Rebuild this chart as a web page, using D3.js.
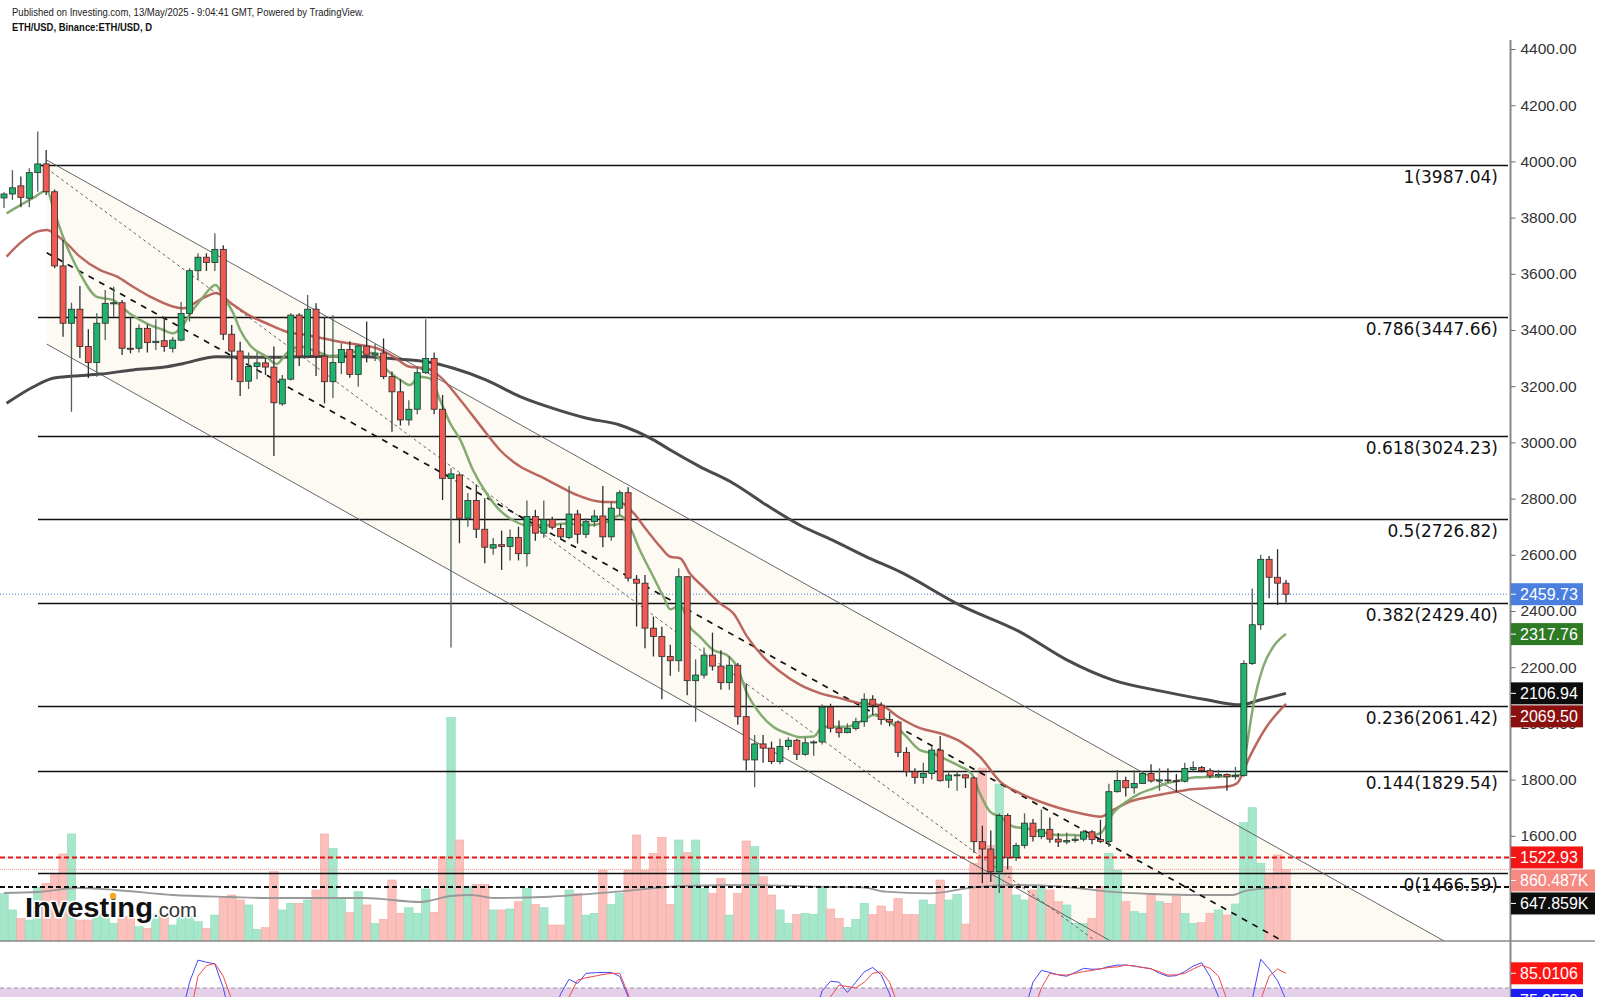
<!DOCTYPE html>
<html>
<head>
<meta charset="utf-8">
<script src="https://cdn.jsdelivr.net/npm/d3@7"></script>
<style>
  html, body { margin: 0; padding: 0; background: #fff; }
  svg { display: block; font-family: "Liberation Sans", Arial, sans-serif; }
</style>
</head>
<body>
<div id="chart"></div>
<script>
// ETH/USD daily, 12 Dec 2024 .. 13 May 2025 (index 0..152)
const opens = [3870,3884,3913,3869,3960,3991,3892,3628,3424,3474,
  3341,3284,3424,3493,3497,3335,3335,3406,3355,3362,
  3335,3364,3459,3611,3659,3640,3687,3385,3325,3218,
  3270,3283,3268,3137,3225,3453,3307,3474,3307,3216,
  3284,3331,3242,3343,3311,3318,3234,3180,3080,3118,
  3248,3299,3118,2872,2884,2730,2793,2691,2624,2636,
  2630,2662,2604,2736,2677,2726,2694,2662,2745,2673,
  2718,2738,2664,2766,2821,2513,2499,2339,2309,2238,
  2223,2522,2152,2172,2243,2204,2145,2207,2024,1870,
  1927,1912,1864,1918,1940,1890,1931,1934,2058,1983,
  1967,1982,2006,2086,2065,2014,2005,1897,1828,1808,
  1822,1905,1798,1816,1817,1806,1579,1553,1472,1672,
  1522,1566,1645,1597,1623,1588,1578,1583,1588,1614,
  1587,1580,1757,1797,1771,1786,1822,1795,1799,1796,
  1794,1836,1843,1832,1813,1818,1810,1815,2213,2351,
  2584,2520,2499];
const highs = [3890,3969,3946,3976,4106,4041,3900,3720,3497,3557,
  3403,3460,3542,3554,3507,3447,3420,3420,3438,3447,
  3375,3500,3620,3673,3673,3744,3702,3418,3358,3320,
  3320,3300,3341,3240,3460,3460,3525,3495,3447,3453,
  3353,3360,3350,3430,3350,3370,3252,3225,3150,3270,
  3438,3320,3169,2908,2890,2820,2850,2801,2660,2686,
  2690,2700,2793,2760,2793,2735,2710,2845,2760,2730,
  2760,2845,2790,2830,2840,2528,2528,2380,2344,2280,
  2552,2522,2228,2270,2323,2260,2240,2215,2143,1959,
  1959,1935,1945,1950,1945,1950,1940,2068,2070,2010,
  2000,2020,2107,2100,2075,2040,2010,1915,1840,1860,
  1920,1955,1830,1830,1820,1811,1636,1619,1679,1679,
  1575,1680,1660,1694,1665,1610,1612,1600,1620,1620,
  1657,1785,1834,1810,1834,1830,1855,1840,1840,1820,
  1860,1865,1848,1840,1835,1822,1845,2225,2480,2600,
  2596,2620,2510];
const lows = [3834,3863,3837,3837,3892,3880,3620,3376,3109,3300,
  3229,3234,3364,3447,3311,3317,3320,3320,3329,3323,
  3320,3360,3430,3578,3610,3610,3364,3222,3165,3190,
  3225,3240,2952,3130,3220,3272,3299,3236,3139,3158,
  3243,3230,3198,3284,3290,3225,3038,3060,3060,3100,
  3243,3100,2795,2270,2641,2700,2660,2570,2600,2546,
  2580,2580,2558,2650,2660,2690,2655,2655,2640,2660,
  2700,2627,2650,2740,2505,2345,2267,2238,2086,2170,
  2184,2100,2006,2160,2188,2120,2120,1995,1832,1773,
  1860,1855,1855,1905,1870,1885,1885,1925,1968,1950,
  1965,1975,1988,2030,1995,1990,1880,1811,1785,1785,
  1800,1793,1770,1760,1770,1540,1431,1436,1396,1480,
  1510,1555,1580,1588,1575,1560,1570,1575,1580,1570,
  1574,1560,1754,1740,1750,1785,1790,1760,1790,1755,
  1790,1830,1825,1805,1805,1760,1800,1810,2208,2333,
  2445,2421,2430];
const closes = [3884,3906,3872,3960,3991,3892,3628,3424,3474,3341,
  3284,3424,3495,3497,3335,3333,3406,3355,3360,3341,
  3364,3459,3611,3659,3640,3687,3385,3325,3216,3270,
  3283,3268,3141,3225,3453,3307,3474,3307,3216,3284,
  3331,3242,3343,3311,3318,3234,3180,3080,3118,3248,
  3299,3118,2872,2888,2730,2793,2691,2627,2636,2630,
  2662,2604,2736,2677,2726,2698,2664,2745,2673,2718,
  2738,2664,2766,2821,2517,2499,2339,2309,2238,2223,
  2522,2152,2172,2243,2204,2145,2207,2024,1870,1927,
  1912,1864,1918,1940,1890,1931,1934,2058,1983,1967,
  1982,2006,2086,2065,2014,2005,1897,1828,1808,1822,
  1905,1796,1816,1817,1806,1579,1553,1472,1672,1522,
  1566,1645,1597,1623,1588,1578,1583,1588,1614,1587,
  1580,1757,1797,1771,1786,1822,1795,1799,1796,1794,
  1840,1843,1832,1813,1818,1810,1815,2213,2351,2584,
  2520,2499,2459.73];
// volume in thousands
const volumes = [573,373,273,252,645,693,800,1046,1286,252,
  252,333,333,213,292,292,172,153,333,292,
  192,292,292,232,153,312,525,553,493,433,
  141,160,833,373,453,453,493,613,1286,1114,
  513,340,593,433,213,261,733,333,400,333,
  625,345,1013,2687,1214,653,681,681,373,373,
  385,473,633,441,400,192,192,613,573,312,
  333,853,441,573,853,1274,853,1054,1246,441,
  1214,1062,1214,633,573,753,312,573,1202,1134,
  773,553,373,212,320,333,320,653,385,273,
  164,260,453,320,421,353,513,320,320,493,
  441,733,493,561,204,933,2079,1150,1887,893,
  553,493,613,645,613,473,433,212,212,273,
  653,1054,853,473,353,333,573,473,453,533,
  333,212,220,333,373,312,445,1422,1602,934,
  814,1034,860.487];

// moving averages: [candle index, value]
const maFast = [[0.3,3815],[3.4,3869],[5.1,3896],[5.9,3827],[7,3732],[9,3602],[11,3518],[12.9,3507],[14.9,3459],[16.9,3424],[18.9,3400],[20,3388],[21.1,3412],[22.1,3459],[23.4,3510],[25.1,3560],[25.8,3531],[26.4,3501],[27.2,3459],[28,3400],[29.2,3345],[31.1,3305],[32.3,3279],[33.5,3317],[35.1,3341],[37.1,3323],[39,3305],[41.4,3323],[43.8,3317],[45.4,3258],[47,3222],[48.1,3204],[49.3,3234],[50.5,3228],[51.7,3151],[52.9,3068],[54.1,3009],[55.6,2902],[57.2,2819],[58.8,2758],[60.4,2722],[62,2705],[64.3,2705],[66.7,2711],[69.1,2705],[71.5,2717],[73,2740],[74.2,2699],[75.4,2616],[77,2521],[78.2,2450],[79,2406],[80.2,2421],[81.3,2344],[82.5,2309],[84.1,2261],[85.7,2243],[86.9,2202],[88.1,2107],[89.6,2036],[91.2,1988],[92.8,1965],[94.4,1951],[96,1953],[97.1,1988],[99.9,1988],[101.9,2012],[103.1,2030],[104.3,2018],[105.8,1988],[107,1953],[108.6,1905],[110.2,1893],[111.8,1870],[113.4,1846],[114.7,1822],[115.7,1751],[116.9,1686],[118.1,1668],[119.7,1632],[121.3,1626],[122.8,1615],[124.8,1603],[126.8,1603],[128.4,1599],[130,1609],[131.5,1680],[133.1,1722],[134.7,1751],[136.3,1769],[137.9,1787],[139.4,1798],[141.4,1808],[143.4,1810],[145.4,1813],[146.6,1817],[147.2,1894],[148.1,2060],[149.3,2202],[150.5,2273],[152,2317.76]];
const maMid = [[0.3,3661],[1.9,3709],[3.9,3750],[5.1,3756],[6.2,3738],[7.4,3709],[9,3661],[11.4,3613],[13.4,3590],[15.3,3554],[17.3,3519],[20.1,3483],[21.3,3477],[23.2,3507],[25.2,3532],[26.9,3496],[29.2,3450],[31.1,3424],[33.5,3394],[35.9,3382],[37.9,3370],[39.8,3358],[42.2,3347],[44.2,3335],[46.2,3305],[48.1,3269],[50.1,3264],[51.7,3234],[54.1,3151],[57.2,3032],[58.8,2973],[61.2,2914],[63.6,2879],[65.9,2843],[67.9,2813],[70.7,2789],[73,2787],[74.6,2750],[76.2,2688],[77.8,2629],[79,2593],[80.2,2587],[81.3,2534],[82.9,2486],[84.9,2427],[86.5,2391],[88.1,2309],[90,2238],[92,2185],[94.4,2137],[96.8,2107],[99.1,2090],[101.5,2072],[103.9,2065],[106.2,2020],[108.6,1983],[111,1965],[113.4,1935],[115.7,1882],[118.1,1793],[120.5,1751],[122.8,1722],[125.2,1698],[127.6,1680],[130,1668],[131.5,1692],[133.5,1722],[135.5,1737],[137.9,1751],[140.2,1763],[142.6,1769],[145.4,1777],[146.2,1787],[147.7,1882],[149.7,1988],[152,2069.5]];
const maSlow = [[0.3,3139],[3.5,3198],[5.8,3228],[8.2,3236],[11.4,3243],[15.3,3258],[19.3,3269],[21.3,3281],[25.2,3305],[31.1,3303],[35.1,3305],[39,3307],[43,3305],[47,3296],[50.1,3287],[53.3,3264],[57.2,3222],[61.2,3163],[65.1,3121],[69.1,3086],[73,3062],[77,3009],[79,2973],[82.5,2914],[86.5,2854],[90.4,2777],[94.4,2705],[98.3,2651],[102.3,2592],[106.2,2540],[113.4,2420],[120.5,2325],[126,2226],[131.5,2154],[137.5,2113],[142.4,2085],[146.6,2066],[148.9,2083],[152,2106.94]];
const volMA = [[0,577],[4,589],[8.7,637],[13.2,613],[20,553],[26.8,529],[31.3,517],[38,517],[42.7,517],[49.4,469],[53,541],[55.4,553],[58,517],[64.7,532],[72.7,593],[80.6,661],[88.6,673],[96.5,653],[101.8,645],[104.5,593],[109.7,573],[115,645],[120.3,673],[125.6,653],[130.9,593],[136.2,565],[141.5,553],[145.7,553],[146.9,593],[149.7,633],[152,647.859]];

// stochastic (only the stretches that rise above ~76 are visible)
const stochK = [
  [[21,70],[22,82],[23,89.5],[24,88.8],[25,88.2],[26,80],[27,68]],
  [[65,70],[66,78],[67,83],[68,81.5],[69,85],[70,85.2],[71,85.3],[72,85.3],[73,84],[74,77],[75,65]],
  [[96,70],[97,79],[98,82.3],[99,82],[100,78.5],[101,82],[102,85.5],[103,87],[104,84.5],[105,78],[106,68]],
  [[121,72],[122,82],[123,86],[124,85.3],[125,84.5],[126,84],[127,85.3],[128,86.7],[129,86.4],[130,86.5],[131,87.3],[132,87.8],[133,87.8],[134,87.5],[135,87],[136,86.6],[137,85],[138,84],[139,84.2],[140,85.6],[141,87.5],[142,88.6],[143,83.9],[144,77],[145,68]],
  [[147,62],[148,76],[149,89.8],[150,86.5],[151,82.5],[152,75.9579]]
];
const stochD = [
  [[22,70],[23,84],[24,87.6],[25,88.4],[26,84],[27,76],[28,68]],
  [[66,70],[67,77],[68,82.7],[69,83.5],[70,84],[71,84.6],[72,85],[73,85],[74,78],[75,68]],
  [[97,70],[98,77],[99,81],[100,80.5],[101,80],[102,82],[103,85],[104,85.5],[105,82],[106,74],[107,65]],
  [[122,72],[123,80],[124,85],[125,84.5],[126,84.4],[127,85],[128,85.6],[129,86],[130,86.5],[131,87],[132,87.2],[133,87.8],[134,87.5],[135,87],[136,86.5],[137,85.5],[138,84.4],[139,84.5],[140,85],[141,86.5],[142,87.8],[143,86.7],[144,84],[145,76],[146,66]],
  [[148,62],[149,76],[150,84],[151,86.5],[152,85.0106]]
];

const fibLevels = [1, 0.786, 0.618, 0.5, 0.382, 0.236, 0.144, 0];
const fibPrices = [3987.04, 3447.66, 3024.23, 2726.82, 2429.40, 2061.42, 1829.54, 1466.59];
const alertLevel = 1522.93;
const yTicks = [1600,1800,2000,2200,2400,2600,2800,3000,3200,3400,3600,3800,4000,4200,4400];

// drawn trend lines: [candle index, price]
const channelUpper = [[5.06, 4005], [106.2, 2308.5]];
const channelLower = [[5.06, 3350], [126.8, 1300]];
const trendMid = [[5.06, 3675], [145, 1336]];
const trendDotted = [[5.06, 3975], [106.2, 1739]];

const W = 1600, H = 997;
const axisX = 1510.5, paneBottom = 941;

const svg = d3.select('#chart').append('svg').attr('width', W).attr('height', H);

const x = d3.scaleLinear().domain([0, 152]).range([4, 1286]);
const y = d3.scaleLinear().domain([1600, 4400]).range([835.8, 49]);
const yVol = d3.scaleLinear().domain([0, 1000]).range([paneBottom, paneBottom - 83.2]);
const yStoch = d3.scaleLinear().domain([80, 85.0106]).range([988, 973.3]);

const defs = svg.append('defs');
defs.append('clipPath').attr('id', 'mainClip').append('rect')
  .attr('x', 0).attr('y', 0).attr('width', 1509).attr('height', paneBottom);
defs.append('clipPath').attr('id', 'stochClip').append('rect')
  .attr('x', 0).attr('y', 942).attr('width', 1509).attr('height', 60);

const main = svg.append('g').attr('clip-path', 'url(#mainClip)');

// extend a two-point line down to the bottom of the pane
const pBottom = y.invert(paneBottom + 2);
function extend(pts) {
  const [a, b] = pts;
  const slope = (b[1] - a[1]) / (b[0] - a[0]);
  return [a, [a[0] + (pBottom - a[1]) / slope, pBottom]];
}
const up = extend(channelUpper), lo = extend(channelLower);

// channel fill
main.append('path')
  .attr('d', d3.line()([up[0], up[1], lo[1], lo[0]].map(d => [x(d[0]), y(d[1])])) + 'Z')
  .attr('fill', '#fbf6ea').attr('opacity', 0.55);

// volume bars
const candles = closes.map((c, i) => ({ i, o: opens[i], h: highs[i], l: lows[i], c, v: volumes[i] }));
main.append('g').selectAll('rect').data(candles).join('rect')
  .attr('x', d => x(d.i) - 4.2)
  .attr('width', 8.43)
  .attr('y', d => yVol(d.v))
  .attr('height', d => paneBottom - yVol(d.v))
  .attr('fill', d => d.c >= d.o ? '#a6e6cb' : '#fbc0bb')
  .attr('stroke', d => d.c >= d.o ? '#8fdcbc' : '#f5aaa4')
  .attr('stroke-width', 0.6);

main.append('path').datum(volMA)
  .attr('d', d3.line().x(d => x(d[0])).y(d => yVol(d[1])).curve(d3.curveMonotoneX))
  .attr('fill', 'none').attr('stroke', '#999').attr('stroke-width', 1.8);

// horizontal reference lines
function hline(yy, color, w, dash) {
  main.append('line').attr('x1', 0).attr('x2', 1509).attr('y1', yy).attr('y2', yy)
    .attr('stroke', color).attr('stroke-width', w).attr('stroke-dasharray', dash);
}
hline(yVol(volumes[152]), '#f3a19b', 1, '1,1');
hline(y(closes[152]), '#4a7fe0', 1, '1,2');
hline(y(alertLevel), '#e51414', 2, '5,3');
hline(yVol(volMA[volMA.length - 1][1]), '#111', 2, '5,3');

// fibonacci levels
const fib = main.append('g');
fib.selectAll('line').data(fibPrices).join('line')
  .attr('x1', 38).attr('x2', 1508)
  .attr('y1', d => Math.round(y(d)) + 0.5).attr('y2', d => Math.round(y(d)) + 0.5)
  .attr('stroke', '#111').attr('stroke-width', 1.3);
fib.selectAll('text').data(fibPrices).join('text')
  .attr('x', 1498).attr('y', d => y(d) + 18)
  .attr('text-anchor', 'end')
  .style('font', '17px "DejaVu Sans", Verdana, sans-serif').attr('fill', '#111')
  .text((d, k) => `${fibLevels[k]}(${d.toFixed(2)})`);

// trend channel lines
const seg = d3.line().x(d => x(d[0])).y(d => y(d[1]));
main.append('path').attr('d', seg(up)).attr('stroke', '#555').attr('stroke-width', 0.9).attr('fill', 'none');
main.append('path').attr('d', seg(lo)).attr('stroke', '#555').attr('stroke-width', 0.9).attr('fill', 'none');
main.append('path').attr('d', seg(extend(trendDotted))).attr('stroke', '#555')
  .attr('stroke-width', 0.9).attr('stroke-dasharray', '3,3').attr('fill', 'none');
main.append('path').attr('d', seg(extend(trendMid))).attr('stroke', '#111')
  .attr('stroke-width', 1.7).attr('stroke-dasharray', '6,6').attr('fill', 'none');

// moving averages
const maLine = d3.line().x(d => x(d[0])).y(d => y(d[1])).curve(d3.curveMonotoneX);
main.append('path').datum(maSlow).attr('d', maLine)
  .attr('fill', 'none').attr('stroke', '#4a4a4a').attr('stroke-width', 3);
main.append('path').datum(maMid).attr('d', maLine)
  .attr('fill', 'none').attr('stroke', '#b4574f').attr('stroke-width', 2.5).attr('opacity', 0.9);
main.append('path').datum(maFast).attr('d', maLine)
  .attr('fill', 'none').attr('stroke', '#7da76a').attr('stroke-width', 2.5).attr('opacity', 0.95);

// candles
const cg = main.append('g');
cg.selectAll('line').data(candles).join('line')
  .attr('x1', d => x(d.i)).attr('x2', d => x(d.i))
  .attr('y1', d => y(d.h)).attr('y2', d => y(d.l))
  .attr('stroke', d => d.c >= d.o ? '#4f6258' : '#2e2e2e').attr('stroke-width', 1.3);
cg.selectAll('rect').data(candles).join('rect')
  .attr('x', d => x(d.i) - 3).attr('width', 6)
  .attr('y', d => y(Math.max(d.o, d.c)))
  .attr('height', d => Math.max(1, Math.abs(y(d.o) - y(d.c))))
  .attr('fill', d => d.c >= d.o ? '#1fb36e' : '#f05a52')
  .attr('stroke', '#2b2b2b').attr('stroke-width', 0.8);

// price axis
svg.append('g').attr('transform', `translate(${axisX},0)`)
  .call(d3.axisRight(y).tickValues(yTicks).tickFormat(d3.format('.2f')).tickSize(5).tickPadding(5))
  .call(g => {
    g.select('.domain').remove();
    g.selectAll('line').attr('stroke', '#666');
    g.selectAll('text').attr('fill', '#333').style('font', '15.5px "Liberation Sans", Arial, sans-serif');
  });
svg.append('line').attr('x1', axisX).attr('x2', axisX).attr('y1', 40).attr('y2', H)
  .attr('stroke', '#888').attr('stroke-width', 2);
svg.append('line').attr('x1', 0).attr('x2', 1595).attr('y1', paneBottom).attr('y2', paneBottom)
  .attr('stroke', '#888').attr('stroke-width', 1.5);

// stochastic pane
const st = svg.append('g').attr('clip-path', 'url(#stochClip)');
st.append('rect').attr('x', 0).attr('width', 1509).attr('y', yStoch(80)).attr('height', 20).attr('fill', '#e4d1e9');
st.append('line').attr('x1', 0).attr('x2', 1509).attr('y1', yStoch(80)).attr('y2', yStoch(80))
  .attr('stroke', '#a28fab').attr('stroke-width', 1).attr('stroke-dasharray', '4,3');
const stLine = d3.line().x(d => x(d[0])).y(d => yStoch(d[1]));
st.selectAll('path.k').data(stochK).join('path').attr('class', 'k').attr('d', stLine)
  .attr('fill', 'none').attr('stroke', '#4646f5').attr('stroke-width', 1);
st.selectAll('path.d').data(stochD).join('path').attr('class', 'd').attr('d', stLine)
  .attr('fill', 'none').attr('stroke', '#f04848').attr('stroke-width', 1);

// value tags on the right
const lastOf = a => a[a.length - 1][1];
const tags = [
  { yy: y(closes[152]), txt: closes[152].toFixed(2), fill: '#4a7fe0', w: 72 },
  { yy: y(lastOf(maFast)), txt: lastOf(maFast).toFixed(2), fill: '#2f7a24', w: 72 },
  { yy: y(lastOf(maSlow)), txt: lastOf(maSlow).toFixed(2), fill: '#0d0d0d', w: 72 },
  { yy: y(lastOf(maMid)), txt: lastOf(maMid).toFixed(2), fill: '#8b1010', w: 72 },
  { yy: y(alertLevel), txt: alertLevel.toFixed(2), fill: '#f41616', w: 72 },
  { yy: yVol(volumes[152]), txt: d3.format('.3f')(volumes[152]) + 'K', fill: '#f58a83', w: 84 },
  { yy: yVol(lastOf(volMA)), txt: d3.format('.3f')(lastOf(volMA)) + 'K', fill: '#0d0d0d', w: 84 }
].sort((a, b) => a.yy - b.yy);
for (let k = 1; k < tags.length; k++) tags[k].yy = Math.max(tags[k].yy, tags[k - 1].yy + 23);
tags.push({ yy: yStoch(lastOf(stochD[4])), txt: lastOf(stochD[4]).toFixed(4), fill: '#ff1414', w: 72 });
tags.push({ yy: yStoch(lastOf(stochK[4])), txt: lastOf(stochK[4]).toFixed(4), fill: '#1c1cf5', w: 72 });

const tg = svg.append('g').selectAll('g').data(tags).join('g')
  .attr('transform', d => `translate(1511,${d.yy})`);
tg.append('rect').attr('x', 0).attr('y', -11).attr('width', d => d.w).attr('height', 22).attr('fill', d => d.fill);
tg.append('line').attr('x1', 0).attr('x2', 5).attr('y1', 0).attr('y2', 0).attr('stroke', '#fff').attr('stroke-width', 1);
tg.append('text').attr('x', 9).attr('dy', '0.36em').attr('fill', '#fff')
  .style('font', '16px "Liberation Sans", Arial, sans-serif').text(d => d.txt);

// header
svg.append('text').attr('x', 12).attr('y', 16).attr('fill', '#222')
  .attr('textLength', 352).attr('lengthAdjust', 'spacingAndGlyphs')
  .style('font', '10px "Liberation Sans", Arial, sans-serif')
  .text('Published on Investing.com, 13/May/2025 - 9:04:41 GMT, Powered by TradingView.');
svg.append('text').attr('x', 12).attr('y', 31).attr('fill', '#111')
  .attr('textLength', 140).attr('lengthAdjust', 'spacingAndGlyphs')
  .style('font', 'bold 10px "Liberation Sans", Arial, sans-serif')
  .text('ETH/USD, Binance:ETH/USD, D');

// watermark logo
const logo = svg.append('g');
logo.append('text').attr('x', 25).attr('y', 917).attr('textLength', 128).attr('lengthAdjust', 'spacingAndGlyphs')
  .style('font', 'bold 27px "Liberation Sans", Arial, sans-serif').attr('fill', '#111')
  .attr('stroke', '#fff').attr('stroke-width', 3).attr('paint-order', 'stroke')
  .text('Investing');
logo.append('text').attr('x', 153).attr('y', 917).attr('textLength', 44).attr('lengthAdjust', 'spacingAndGlyphs')
  .style('font', '21px "Liberation Sans", Arial, sans-serif').attr('fill', '#333')
  .attr('stroke', '#fff').attr('stroke-width', 3).attr('paint-order', 'stroke')
  .text('.com');
logo.append('circle').attr('cx', 113).attr('cy', 896).attr('r', 3.2).attr('fill', '#f6a623');
</script>
</body>
</html>
